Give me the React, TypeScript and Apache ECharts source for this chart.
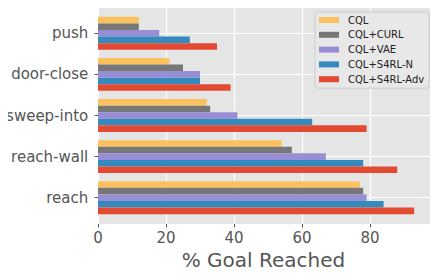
import React, { useEffect, useRef } from "react";
import * as echarts from "echarts";

const categories = ["reach", "reach-wall", "sweep-into", "door-close", "push"];
const seriesNames = ["CQL", "CQL+CURL", "CQL+VAE", "CQL+S4RL-N", "CQL+S4RL-Adv"];
const cql = [77, 54, 32, 21, 12];
const cqlCurl = [78, 57, 33, 25, 12];
const cqlVae = [79, 67, 41, 30, 18];
const cqlS4rlN = [84, 78, 63, 30, 27];
const cqlS4rlAdv = [93, 88, 79, 39, 35];
const colors = ["#FBC15E", "#777777", "#988ED5", "#348ABD", "#E24A33"];
const xTickInterval = 20;
const xAxisMax = 100;

const allValues = [cql, cqlCurl, cqlVae, cqlS4rlN, cqlS4rlAdv];

export default function App() {
  const ref = useRef<HTMLDivElement>(null);
  useEffect(() => {
    if (!ref.current) return;
    const chart = echarts.init(ref.current, null, { renderer: "svg" });
    const font = "DejaVu Sans";
    const plotLeft = 98;
    const plotTop = 7;
    const plotW = 334;
    const plotH = 217;
    const fullW = plotW * xAxisMax / 97.65;
    const band = 41.1;
    const barsTop = plotTop + 0.14 * band;
    const barsH = band * categories.length;
    const series = allValues.map((vals, i) => ({
      name: seriesNames[i],
      type: "bar",
      xAxisIndex: 2,
      yAxisIndex: 2,
      data: vals,
      itemStyle: { color: colors[i] },
      barGap: "0%",
      barCategoryGap: "20%",
    }));
    chart.setOption({
      animation: false,
      textStyle: { fontFamily: font },
      graphic: [
        {
          type: "rect",
          z: -10,
          shape: { x: plotLeft, y: plotTop, width: plotW, height: plotH },
          style: { fill: "#E5E5E5" },
          silent: true,
        },
      ],
      grid: [
        { left: plotLeft, top: plotTop, width: fullW, height: plotH },
        { left: plotLeft, top: barsTop + band / 2, width: plotW, height: band * (categories.length - 1) },
        { left: plotLeft, top: barsTop, width: fullW, height: barsH },
      ],
      xAxis: [
        {
          gridIndex: 0,
          type: "value",
          min: 0,
          max: xAxisMax,
          interval: xTickInterval,
          axisLine: { show: false },
          axisTick: { show: true, length: 3.5, lineStyle: { color: "#555555", width: 1 } },
          axisLabel: {
            show: true,
            showMaxLabel: false,
            fontSize: 15,
            lineHeight: 15,
            color: "#555555",
            margin: 6,
            fontFamily: font,
          },
          splitLine: { show: true, lineStyle: { color: "#FFFFFF", width: 1.2 } },
          name: "% Goal Reached",
          nameLocation: "middle",
          nameGap: 26,
          nameTextStyle: {
            fontSize: 20,
            lineHeight: 20,
            color: "#555555",
            fontFamily: font,
            padding: [0, 9, 0, 0],
          },
        },
        { gridIndex: 1, type: "value", min: 0, max: 1, show: false },
        { gridIndex: 2, type: "value", min: 0, max: xAxisMax, show: false },
      ],
      yAxis: [
        { gridIndex: 0, type: "value", min: 0, max: 1, show: false },
        {
          gridIndex: 1,
          type: "value",
          min: 0,
          max: categories.length - 1,
          interval: 1,
          axisLine: { show: false },
          axisTick: { show: false },
          axisLabel: { show: false },
          splitLine: { show: true, lineStyle: { color: "#FFFFFF", width: 1.2 } },
        },
        {
          gridIndex: 2,
          type: "category",
          data: categories,
          axisLine: { show: false },
          axisTick: { show: true, alignWithLabel: true, length: 3.5, lineStyle: { color: "#555555", width: 1 } },
          axisLabel: { fontSize: 15, color: "#555555", margin: 9.7, fontFamily: font },
          splitLine: { show: false },
        },
      ],
      legend: {
        data: seriesNames,
        orient: "vertical",
        left: 315,
        top: 12,
        padding: [2, 5, 3, 4],
        itemWidth: 20,
        itemHeight: 6,
        itemGap: 2.8,
        icon: "rect",
        backgroundColor: "#E8E8E8",
        borderColor: "#CCCCCC",
        borderWidth: 1,
        borderRadius: 3,
        textStyle: { fontSize: 10, lineHeight: 12, color: "#222222", fontFamily: font, padding: [0, 0, 0, 4] },
      },
      series,
    });
    return () => chart.dispose();
  }, []);
  return <div ref={ref} style={{ width: 438, height: 276, margin: -8 }} />;
}
